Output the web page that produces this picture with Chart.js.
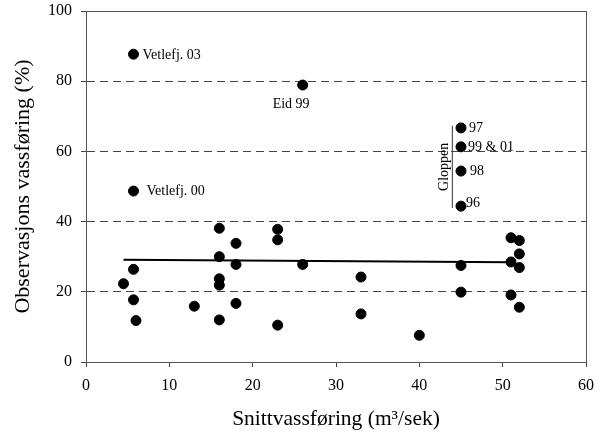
<!DOCTYPE html>
<html>
<head>
<meta charset="utf-8">
<script src="https://cdn.jsdelivr.net/npm/chart.js@4"></script>
<style>
  html, body { margin: 0; padding: 0; background: #fff; }
  #wrap { width: 602px; height: 432px; }
</style>
</head>
<body>
<div id="wrap"><canvas id="chart"></canvas></div>
<script>
// Snittvassføring (x) og observasjons vassføring (y)
const flowX = [5.7, 5.7, 26, 45, 45, 45, 45,
    4.5, 5.7, 5.7, 6.0, 13, 16, 16, 16, 16, 16, 18, 18, 18, 23, 23, 23, 26,
    33, 33, 40, 45, 45, 51, 52, 52, 51, 52, 51, 52];
const obsY = [87.7, 48.7, 78.9, 66.7, 61.3, 54.4, 44.4,
    22.3, 26.4, 17.7, 11.8, 15.9, 38.1, 30.0, 23.7, 21.9, 12.0, 33.8, 27.8, 16.7, 37.8, 34.8, 10.5, 27.8,
    24.2, 13.7, 7.6, 27.5, 19.9, 35.4, 34.6, 30.8, 28.5, 26.9, 19.1, 15.6];
const trendX = [4.5, 51];
const trendY = [29.1, 28.4];
const yTicks = [0, 20, 40, 60, 80, 100];

// Merkelapper: tekst og hvilket punkt de hører til
const labelText = ['Vetlefj. 03', 'Vetlefj. 00', 'Eid 99', '97', '99 & 01', '98', '96'];
const labelPoint = [0, 1, 2, 3, 4, 5, 6];
const labelOffset = [[9, 1], [13, 0], [-30, 19], [8, 0], [7, 0], [9, 0], [5, -3]];

const serif = 'Liberation Serif';

const annotations = {
    id: 'annotations',
    afterDatasetsDraw(chart) {
        const { ctx, chartArea, scales: { x, y } } = chart;
        ctx.save();
        // ramme
        ctx.strokeStyle = '#555';
        ctx.lineWidth = 1;
        ctx.strokeRect(chartArea.left + 0.5, chartArea.top + 0.5, chartArea.right - chartArea.left, chartArea.bottom - chartArea.top);

        ctx.fillStyle = '#000';
        ctx.font = '14px "' + serif + '"';
        ctx.textBaseline = 'middle';
        ctx.textAlign = 'left';
        labelText.forEach((t, i) => {
            const p = labelPoint[i];
            ctx.fillText(t, x.getPixelForValue(flowX[p]) + labelOffset[i][0], y.getPixelForValue(obsY[p]) + labelOffset[i][1]);
        });

        // Gloppen
        const gx = x.getPixelForValue(43.9);
        ctx.strokeStyle = '#333';
        ctx.beginPath();
        ctx.moveTo(gx + 0.5, y.getPixelForValue(67.3));
        ctx.lineTo(gx + 0.5, y.getPixelForValue(43.9));
        ctx.stroke();
        ctx.translate(gx - 8, y.getPixelForValue(55.6));
        ctx.rotate(-Math.PI / 2);
        ctx.textAlign = 'center';
        ctx.fillText('Gloppen', 0, 0);
        ctx.restore();
    }
};

new Chart(document.getElementById('chart'), {
    type: 'scatter',
    data: {
        datasets: [
            {
                data: flowX.map((v, i) => ({ x: v, y: obsY[i] })),
                backgroundColor: '#000', borderColor: '#000', pointRadius: 5, pointHoverRadius: 5
            },
            {
                type: 'line',
                data: trendX.map((v, i) => ({ x: v, y: trendY[i] })),
                borderColor: '#000', borderWidth: 2, pointRadius: 0, fill: false
            }
        ]
    },
    options: {
        responsive: true, maintainAspectRatio: false, animation: false,
        layout: { padding: { left: 6, right: 16, top: 0, bottom: 0 } },
        plugins: { legend: { display: false }, tooltip: { enabled: false } },
        scales: {
            x: {
                type: 'linear', min: 0, max: 60,
                afterFit: s => { s.height = 70; s.paddingRight = 0; s.paddingLeft = 0; },
                grid: { drawOnChartArea: false, tickLength: 5, tickColor: '#444' },
                border: { color: '#555' },
                ticks: { stepSize: 10, color: '#000', font: { family: serif, size: 16 }, padding: 9 },
                title: { display: true, text: 'Snittvassføring (m³/sek)', color: '#000', font: { family: serif, size: 21.5 }, padding: { top: 10, bottom: 0 } }
            },
            y: {
                type: 'linear', min: 0, max: 100,
                afterBuildTicks: s => { s.ticks = yTicks.map(v => ({ value: v })); },
                afterFit: s => { s.width = 80; s.paddingTop = 11; s.paddingBottom = 0; },
                grid: {
                    color: c => (c.tick.value === 0 || c.tick.value === 100) ? 'rgba(0,0,0,0)' : '#444',
                    tickColor: '#444', tickLength: 5, tickBorderDash: []
                },
                border: { color: '#555', dash: [8, 5] },
                ticks: { color: '#000', font: { family: serif, size: 16 }, padding: 9 },
                title: { display: true, text: 'Observasjons vassføring (%)', color: '#000', font: { family: serif, size: 22 }, padding: { top: 4, bottom: 6 } }
            }
        }
    },
    plugins: [annotations]
});
</script>
</body>
</html>
